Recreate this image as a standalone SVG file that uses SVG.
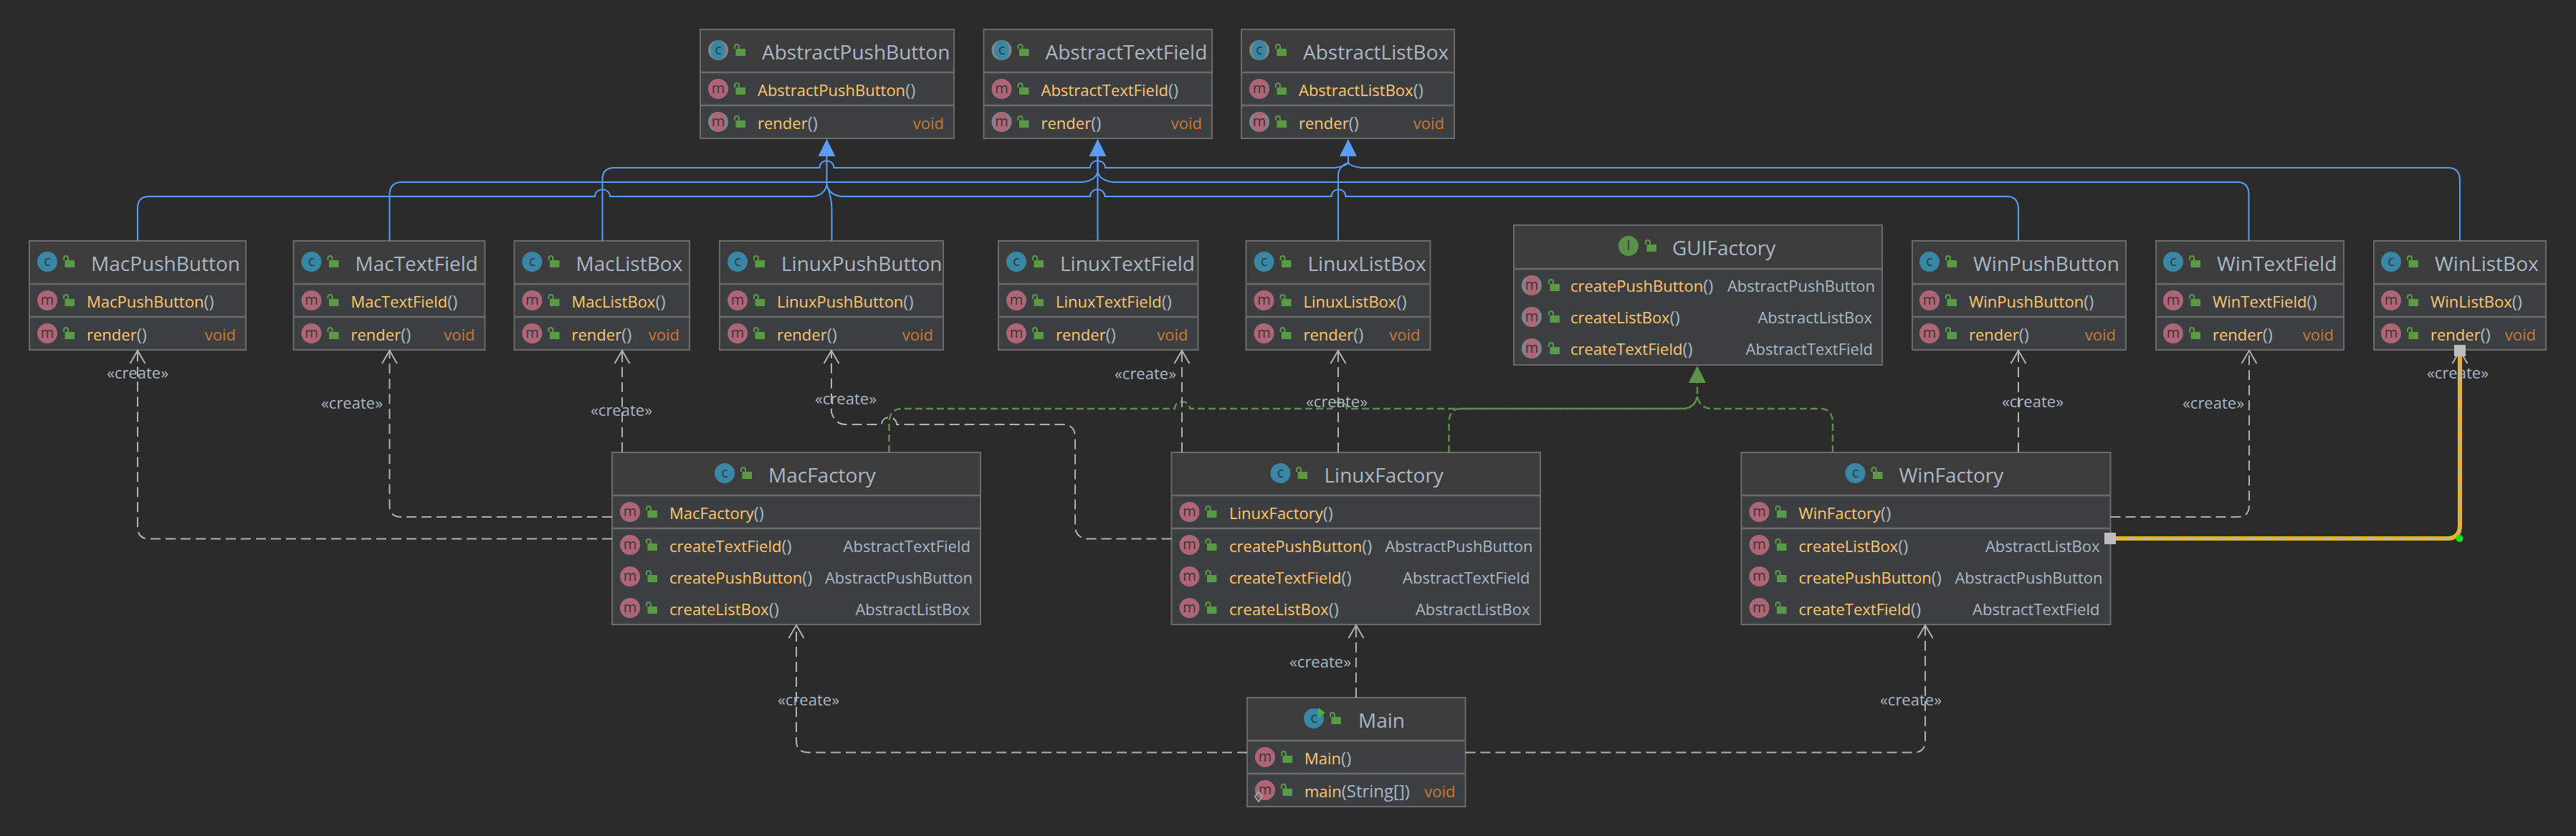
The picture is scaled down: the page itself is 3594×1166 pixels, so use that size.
<svg xmlns="http://www.w3.org/2000/svg" xmlns:xlink="http://www.w3.org/1999/xlink" width="3594" height="1166" viewBox="0 0 3594 1166">
<style>
text{font-family:"Open Sans","Noto Sans",sans-serif}
.hd{fill:#3C3C3C}.bd{fill:#3C3F41}.bx{fill:none;stroke:#6B6B6B;stroke-width:2}.sp{stroke:#6B6B6B;stroke-width:2.5}
.t{font-size:28px;fill:#A9B7C6}.m{font-size:22px;fill:#FFC66D}.p{fill:#A9B7C6;font-size:24px}.v{font-size:22px;fill:#CC7832;text-anchor:end}.r{font-size:22px;fill:#A9B7C6;text-anchor:end}
.l{font-size:22px;fill:#A9B7C6;text-anchor:middle}
.b{fill:none;stroke:#589DF6;stroke-width:2}.g{fill:none;stroke:#AFB1B3;stroke-width:2;stroke-dasharray:14 7}.n{fill:none;stroke:#5A8F47;stroke-width:2.5;stroke-dasharray:10 5}
.ic{font-size:20px;fill:#1F3F4D;text-anchor:middle}.im{font-size:20px;fill:#3B3436;text-anchor:middle}
</style>
<defs>
<marker id="open" markerUnits="userSpaceOnUse" markerWidth="26" markerHeight="26" refX="19" refY="12" orient="auto"><path d="M1,1.5 L19,12 L1,22.5" fill="none" stroke="#AFB1B3" stroke-width="2"/></marker>
<g id="lk"><path d="M1,-2V-5a3,3 0 0 1 6,0V-2" fill="none" stroke="#5B9A45" stroke-width="2"/><rect x="2.5" y="-2" width="13.5" height="10" fill="#5B9A45"/></g>
<g id="cI"><circle r="14" fill="#3A86A5"/><text class="ic" y="6">c</text></g>
<g id="aI"><circle r="14" fill="#7E868C"/><ellipse rx="10" ry="14" fill="#3A86A5"/><text class="ic" y="6">c</text></g>
<g id="mI"><circle r="14" fill="#AE6677"/><text class="im" y="6">m</text></g>
<g id="nI"><circle r="14" fill="#7E868C"/><ellipse rx="10" ry="14" fill="#AE6677"/><text class="im" y="6">m</text></g>
<g id="iI"><circle r="14" fill="#5A8F47"/><text class="im" y="6" font-size="16">I</text></g>
</defs>
<rect width="3594" height="1166" fill="#2B2B2B"/>

<g id="nodes">
<g id="AbstractPushButton" transform="translate(977,41)"><rect class="hd" width="354" height="60"/><rect class="bd" y="60" width="354" height="92"/><rect class="bx" width="354" height="152"/><line class="sp" x2="354" y1="60" y2="60"/><line class="sp" x2="354" y1="106" y2="106"/>
<use href="#aI" x="25" y="29"/><use href="#lk" x="47" y="29"/><text class="t" x="86" y="42">AbstractPushButton</text>
<use href="#mI" x="25" y="83"/><use href="#lk" x="47" y="83"/><text class="m" x="80" y="93">AbstractPushButton<tspan class="p">()</tspan></text>
<use href="#nI" x="25" y="129"/><use href="#lk" x="47" y="129"/><text class="m" x="80" y="139">render<tspan class="p">()</tspan></text><text class="v" x="340" y="139">void</text></g>

<g id="AbstractTextField" transform="translate(1372.5,41)"><rect class="hd" width="318.5" height="60"/><rect class="bd" y="60" width="318.5" height="92"/><rect class="bx" width="318.5" height="152"/><line class="sp" x2="318.5" y1="60" y2="60"/><line class="sp" x2="318.5" y1="106" y2="106"/>
<use href="#aI" x="25" y="29"/><use href="#lk" x="47" y="29"/><text class="t" x="86" y="42">AbstractTextField</text>
<use href="#mI" x="25" y="83"/><use href="#lk" x="47" y="83"/><text class="m" x="80" y="93">AbstractTextField<tspan class="p">()</tspan></text>
<use href="#nI" x="25" y="129"/><use href="#lk" x="47" y="129"/><text class="m" x="80" y="139">render<tspan class="p">()</tspan></text><text class="v" x="304.5" y="139">void</text></g>

<g id="AbstractListBox" transform="translate(1732,41)"><rect class="hd" width="297" height="60"/><rect class="bd" y="60" width="297" height="92"/><rect class="bx" width="297" height="152"/><line class="sp" x2="297" y1="60" y2="60"/><line class="sp" x2="297" y1="106" y2="106"/>
<use href="#aI" x="25" y="29"/><use href="#lk" x="47" y="29"/><text class="t" x="86" y="42">AbstractListBox</text>
<use href="#mI" x="25" y="83"/><use href="#lk" x="47" y="83"/><text class="m" x="80" y="93">AbstractListBox<tspan class="p">()</tspan></text>
<use href="#nI" x="25" y="129"/><use href="#lk" x="47" y="129"/><text class="m" x="80" y="139">render<tspan class="p">()</tspan></text><text class="v" x="283" y="139">void</text></g>

<g id="MacPushButton" transform="translate(41,336)"><rect class="hd" width="302" height="60"/><rect class="bd" y="60" width="302" height="92"/><rect class="bx" width="302" height="152"/><line class="sp" x2="302" y1="60" y2="60"/><line class="sp" x2="302" y1="106" y2="106"/>
<use href="#cI" x="25" y="29"/><use href="#lk" x="47" y="29"/><text class="t" x="86" y="42">MacPushButton</text>
<use href="#mI" x="25" y="83"/><use href="#lk" x="47" y="83"/><text class="m" x="80" y="93">MacPushButton<tspan class="p">()</tspan></text>
<use href="#mI" x="25" y="129"/><use href="#lk" x="47" y="129"/><text class="m" x="80" y="139">render<tspan class="p">()</tspan></text><text class="v" x="288" y="139">void</text></g>

<g id="MacTextField" transform="translate(409.5,336)"><rect class="hd" width="267" height="60"/><rect class="bd" y="60" width="267" height="92"/><rect class="bx" width="267" height="152"/><line class="sp" x2="267" y1="60" y2="60"/><line class="sp" x2="267" y1="106" y2="106"/>
<use href="#cI" x="25" y="29"/><use href="#lk" x="47" y="29"/><text class="t" x="86" y="42">MacTextField</text>
<use href="#mI" x="25" y="83"/><use href="#lk" x="47" y="83"/><text class="m" x="80" y="93">MacTextField<tspan class="p">()</tspan></text>
<use href="#mI" x="25" y="129"/><use href="#lk" x="47" y="129"/><text class="m" x="80" y="139">render<tspan class="p">()</tspan></text><text class="v" x="253" y="139">void</text></g>

<g id="MacListBox" transform="translate(717.5,336)"><rect class="hd" width="244.5" height="60"/><rect class="bd" y="60" width="244.5" height="92"/><rect class="bx" width="244.5" height="152"/><line class="sp" x2="244.5" y1="60" y2="60"/><line class="sp" x2="244.5" y1="106" y2="106"/>
<use href="#cI" x="25" y="29"/><use href="#lk" x="47" y="29"/><text class="t" x="86" y="42">MacListBox</text>
<use href="#mI" x="25" y="83"/><use href="#lk" x="47" y="83"/><text class="m" x="80" y="93">MacListBox<tspan class="p">()</tspan></text>
<use href="#mI" x="25" y="129"/><use href="#lk" x="47" y="129"/><text class="m" x="80" y="139">render<tspan class="p">()</tspan></text><text class="v" x="230.5" y="139">void</text></g>

<g id="LinuxPushButton" transform="translate(1004,336)"><rect class="hd" width="312" height="60"/><rect class="bd" y="60" width="312" height="92"/><rect class="bx" width="312" height="152"/><line class="sp" x2="312" y1="60" y2="60"/><line class="sp" x2="312" y1="106" y2="106"/>
<use href="#cI" x="25" y="29"/><use href="#lk" x="47" y="29"/><text class="t" x="86" y="42">LinuxPushButton</text>
<use href="#mI" x="25" y="83"/><use href="#lk" x="47" y="83"/><text class="m" x="80" y="93">LinuxPushButton<tspan class="p">()</tspan></text>
<use href="#mI" x="25" y="129"/><use href="#lk" x="47" y="129"/><text class="m" x="80" y="139">render<tspan class="p">()</tspan></text><text class="v" x="298" y="139">void</text></g>

<g id="LinuxTextField" transform="translate(1393,336)"><rect class="hd" width="278.5" height="60"/><rect class="bd" y="60" width="278.5" height="92"/><rect class="bx" width="278.5" height="152"/><line class="sp" x2="278.5" y1="60" y2="60"/><line class="sp" x2="278.5" y1="106" y2="106"/>
<use href="#cI" x="25" y="29"/><use href="#lk" x="47" y="29"/><text class="t" x="86" y="42">LinuxTextField</text>
<use href="#mI" x="25" y="83"/><use href="#lk" x="47" y="83"/><text class="m" x="80" y="93">LinuxTextField<tspan class="p">()</tspan></text>
<use href="#mI" x="25" y="129"/><use href="#lk" x="47" y="129"/><text class="m" x="80" y="139">render<tspan class="p">()</tspan></text><text class="v" x="264.5" y="139">void</text></g>

<g id="LinuxListBox" transform="translate(1738.5,336)"><rect class="hd" width="257" height="60"/><rect class="bd" y="60" width="257" height="92"/><rect class="bx" width="257" height="152"/><line class="sp" x2="257" y1="60" y2="60"/><line class="sp" x2="257" y1="106" y2="106"/>
<use href="#cI" x="25" y="29"/><use href="#lk" x="47" y="29"/><text class="t" x="86" y="42">LinuxListBox</text>
<use href="#mI" x="25" y="83"/><use href="#lk" x="47" y="83"/><text class="m" x="80" y="93">LinuxListBox<tspan class="p">()</tspan></text>
<use href="#mI" x="25" y="129"/><use href="#lk" x="47" y="129"/><text class="m" x="80" y="139">render<tspan class="p">()</tspan></text><text class="v" x="243" y="139">void</text></g>

<g id="GUIFactory" transform="translate(2112,314)"><rect class="hd" width="514" height="61"/><rect class="bd" y="61" width="514" height="134"/><rect class="bx" width="514" height="195"/><line class="sp" x2="514" y1="61" y2="61"/>
<use href="#iI" x="160" y="29"/><use href="#lk" x="183" y="29"/><text class="t" x="221" y="42">GUIFactory</text>
<use href="#nI" x="25" y="84"/><use href="#lk" x="48" y="84"/><text class="m" x="79" y="93">createPushButton<tspan class="p">()</tspan></text><text class="r" x="504" y="93">AbstractPushButton</text>
<use href="#nI" x="25" y="128"/><use href="#lk" x="48" y="128"/><text class="m" x="79" y="137">createListBox<tspan class="p">()</tspan></text><text class="r" x="500" y="137">AbstractListBox</text>
<use href="#nI" x="25" y="172"/><use href="#lk" x="48" y="172"/><text class="m" x="79" y="181">createTextField<tspan class="p">()</tspan></text><text class="r" x="501" y="181">AbstractTextField</text></g>

<g id="WinPushButton" transform="translate(2668,336)"><rect class="hd" width="298" height="60"/><rect class="bd" y="60" width="298" height="92"/><rect class="bx" width="298" height="152"/><line class="sp" x2="298" y1="60" y2="60"/><line class="sp" x2="298" y1="106" y2="106"/>
<use href="#cI" x="24" y="29"/><use href="#lk" x="46" y="29"/><text class="t" x="85" y="42">WinPushButton</text>
<use href="#mI" x="24" y="83"/><use href="#lk" x="46" y="83"/><text class="m" x="79" y="93">WinPushButton<tspan class="p">()</tspan></text>
<use href="#mI" x="24" y="129"/><use href="#lk" x="46" y="129"/><text class="m" x="79" y="139">render<tspan class="p">()</tspan></text><text class="v" x="284" y="139">void</text></g>

<g id="WinTextField" transform="translate(3008,336)"><rect class="hd" width="262" height="60"/><rect class="bd" y="60" width="262" height="92"/><rect class="bx" width="262" height="152"/><line class="sp" x2="262" y1="60" y2="60"/><line class="sp" x2="262" y1="106" y2="106"/>
<use href="#cI" x="24" y="29"/><use href="#lk" x="46" y="29"/><text class="t" x="85" y="42">WinTextField</text>
<use href="#mI" x="24" y="83"/><use href="#lk" x="46" y="83"/><text class="m" x="79" y="93">WinTextField<tspan class="p">()</tspan></text>
<use href="#mI" x="24" y="129"/><use href="#lk" x="46" y="129"/><text class="m" x="79" y="139">render<tspan class="p">()</tspan></text><text class="v" x="248" y="139">void</text></g>

<g id="WinListBox" transform="translate(3312,336)"><rect class="hd" width="240" height="60"/><rect class="bd" y="60" width="240" height="92"/><rect class="bx" width="240" height="152"/><line class="sp" x2="240" y1="60" y2="60"/><line class="sp" x2="240" y1="106" y2="106"/>
<use href="#cI" x="24" y="29"/><use href="#lk" x="46" y="29"/><text class="t" x="85" y="42">WinListBox</text>
<use href="#mI" x="24" y="83"/><use href="#lk" x="46" y="83"/><text class="m" x="79" y="93">WinListBox<tspan class="p">()</tspan></text>
<use href="#mI" x="24" y="129"/><use href="#lk" x="46" y="129"/><text class="m" x="79" y="139">render<tspan class="p">()</tspan></text><text class="v" x="226" y="139">void</text></g>

<g id="MacFactory" transform="translate(854,631)"><rect class="hd" width="514" height="60"/><rect class="bd" y="60" width="514" height="180"/><rect class="bx" width="514" height="240"/><line class="sp" x2="514" y1="60" y2="60"/><line class="sp" x2="514" y1="106" y2="106"/>
<use href="#cI" x="157" y="29"/><use href="#lk" x="179" y="29"/><text class="t" x="218" y="42">MacFactory</text>
<use href="#mI" x="25" y="83"/><use href="#lk" x="47" y="83"/><text class="m" x="80" y="93">MacFactory<tspan class="p">()</tspan></text>
<use href="#mI" x="25" y="129"/><use href="#lk" x="47" y="129"/><text class="m" x="80" y="139">createTextField<tspan class="p">()</tspan></text><text class="r" x="500" y="139">AbstractTextField</text>
<use href="#mI" x="25" y="173"/><use href="#lk" x="47" y="173"/><text class="m" x="80" y="183">createPushButton<tspan class="p">()</tspan></text><text class="r" x="503" y="183">AbstractPushButton</text>
<use href="#mI" x="25" y="217"/><use href="#lk" x="47" y="217"/><text class="m" x="80" y="227">createListBox<tspan class="p">()</tspan></text><text class="r" x="499" y="227">AbstractListBox</text></g>

<g id="LinuxFactory" transform="translate(1634.5,631)"><rect class="hd" width="514.5" height="60"/><rect class="bd" y="60" width="514.5" height="180"/><rect class="bx" width="514.5" height="240"/><line class="sp" x2="514.5" y1="60" y2="60"/><line class="sp" x2="514.5" y1="106" y2="106"/>
<use href="#cI" x="152" y="29"/><use href="#lk" x="173.5" y="29"/><text class="t" x="213" y="42">LinuxFactory</text>
<use href="#mI" x="25" y="83"/><use href="#lk" x="47" y="83"/><text class="m" x="80.5" y="93">LinuxFactory<tspan class="p">()</tspan></text>
<use href="#mI" x="25" y="129"/><use href="#lk" x="47" y="129"/><text class="m" x="80.5" y="139">createPushButton<tspan class="p">()</tspan></text><text class="r" x="504" y="139">AbstractPushButton</text>
<use href="#mI" x="25" y="173"/><use href="#lk" x="47" y="173"/><text class="m" x="80.5" y="183">createTextField<tspan class="p">()</tspan></text><text class="r" x="500" y="183">AbstractTextField</text>
<use href="#mI" x="25" y="217"/><use href="#lk" x="47" y="217"/><text class="m" x="80.5" y="227">createListBox<tspan class="p">()</tspan></text><text class="r" x="500" y="227">AbstractListBox</text></g>

<g id="WinFactory" transform="translate(2429.5,631)"><rect class="hd" width="515" height="60"/><rect class="bd" y="60" width="515" height="180"/><rect class="bx" width="515" height="240"/><line class="sp" x2="515" y1="60" y2="60"/><line class="sp" x2="515" y1="106" y2="106"/>
<use href="#cI" x="159" y="29"/><use href="#lk" x="181" y="29"/><text class="t" x="220" y="42">WinFactory</text>
<use href="#mI" x="25" y="83"/><use href="#lk" x="47" y="83"/><text class="m" x="80" y="93">WinFactory<tspan class="p">()</tspan></text>
<use href="#mI" x="25" y="129"/><use href="#lk" x="47" y="129"/><text class="m" x="80" y="139">createListBox<tspan class="p">()</tspan></text><text class="r" x="500" y="139">AbstractListBox</text>
<use href="#mI" x="25" y="173"/><use href="#lk" x="47" y="173"/><text class="m" x="80" y="183">createPushButton<tspan class="p">()</tspan></text><text class="r" x="504" y="183">AbstractPushButton</text>
<use href="#mI" x="25" y="217"/><use href="#lk" x="47" y="217"/><text class="m" x="80" y="227">createTextField<tspan class="p">()</tspan></text><text class="r" x="500" y="227">AbstractTextField</text></g>

<g id="Main" transform="translate(1740,973)"><rect class="hd" width="304.5" height="60"/><rect class="bd" y="60" width="304.5" height="92"/><rect class="bx" width="304.5" height="152"/><line class="sp" x2="304.5" y1="60" y2="60"/><line class="sp" x2="304.5" y1="106" y2="106"/>
<use href="#cI" x="93" y="29"/><path d="M99,14L109,21L99,28Z" fill="#4FB52F"/><use href="#lk" x="115" y="29"/><text class="t" x="155" y="42">Main</text>
<use href="#mI" x="25" y="83"/><use href="#lk" x="47" y="83"/><text class="m" x="80" y="93">Main<tspan class="p">()</tspan></text>
<use href="#mI" x="25" y="129"/><path d="M16,131L21,138L16,145L11,138Z" fill="none" stroke="#9AA3A8" stroke-width="2"/><use href="#lk" x="47" y="129"/><text class="m" x="80" y="139">main<tspan class="p">(String[])</tspan></text><text class="v" x="290.5" y="139">void</text></g>
</g>

<g id="connectors">
<g id="inherit">
<path class="b" d="M192,336V290Q192,274 208,274H830C830,261 851,261 851,274H1135Q1150,272 1153.5,258V218"/>
<path class="b" d="M543.5,336V272Q543.5,254 561,254H1510Q1528,252 1531.5,240V218"/>
<path class="b" d="M840.5,336V250Q840.5,234 857,234H1143.5C1143.5,221 1163.5,221 1163.5,234H1521C1521,221 1542,221 1542,234H1861Q1878,232 1881,227V218"/>
<path class="b" d="M1160.5,336V290Q1160,275 1153.5,258"/>
<path class="b" d="M1531.5,336V218"/>
<path class="b" d="M1867,336V245Q1867,232 1881,227"/>
<path class="b" d="M2816,336V292Q2816,274 2800,274H1877.5C1877.5,261 1857.5,261 1857.5,274H1541.5C1541.5,261 1521,261 1521,274H1174Q1157,272 1153.5,258"/>
<path class="b" d="M3137.5,336V272Q3137.5,254 3122,254H1553Q1535,252 1531.5,240"/>
<path class="b" d="M3432,336V252Q3432,234 3416,234H1900Q1884,232 1881,227"/>
<polygon points="1153.5,194 1141.5,218 1165.5,218" fill="#589DF6"/>
<polygon points="1531.5,194 1519.5,218 1543.5,218" fill="#589DF6"/>
<polygon points="1881,194 1869,218 1893,218" fill="#589DF6"/>
</g>
<g id="implement">
<path class="n" d="M1240.5,631V590Q1241,570 1258,570H1639C1639,557 1660,557 1660,570H1858C1858,557 1879,557 1879,570H2350Q2365,568 2368,553V534"/>
<path class="n" d="M2021.5,631V590Q2021.5,570 2038,570H2350Q2365,568 2368,553"/>
<path class="n" d="M2557,631V590Q2557,570 2540,570H2386Q2371,568 2368,553"/>
<polygon points="2368,510 2356,534 2380,534" fill="#5F9249"/>
</g>
<g id="create">
<path class="g" marker-end="url(#open)" d="M1740,1049.5H1128Q1111,1049.5 1111,1033V872"/>
<path class="g" marker-end="url(#open)" d="M1892,973V872"/>
<path class="g" marker-end="url(#open)" d="M2044.5,1049.5H2670Q2686,1049.5 2686,1033V872"/>
<path class="g" marker-end="url(#open)" d="M854,751.5H208Q192,751.5 192,735V489"/>
<path class="g" marker-end="url(#open)" d="M854,721H560Q543.5,721 543.5,705V489"/>
<path class="g" marker-end="url(#open)" d="M868,631V489"/>
<path class="g" marker-end="url(#open)" d="M1634.5,751.5H1520Q1500,751.5 1500,733V610Q1500,592 1482,592H1251C1251,579 1230,579 1230,592H1180Q1165,592 1160,575V489"/>
<path class="g" marker-end="url(#open)" d="M1649,631V489"/>
<path class="g" marker-end="url(#open)" d="M1867,631V489"/>
<path class="g" marker-end="url(#open)" d="M2816,631V489"/>
<path class="g" marker-end="url(#open)" d="M2944.5,721H3122Q3138,721 3138,705V489"/>
<path d="M2952,751H3414Q3432,751 3432,733V497" fill="none" stroke="#F2B705" stroke-width="6"/>
<path class="g" marker-end="url(#open)" d="M2944.5,751H3414Q3432,751 3432,733V489"/>
</g>
<g id="labels">
<text class="l" x="192" y="528">«create»</text>
<text class="l" x="491" y="570">«create»</text>
<text class="l" x="867" y="580">«create»</text>
<text class="l" x="1180" y="564">«create»</text>
<text class="l" x="1598" y="529">«create»</text>
<text class="l" x="1865" y="568">«create»</text>
<text class="l" x="2836" y="568">«create»</text>
<text class="l" x="3088" y="570">«create»</text>
<text class="l" x="3429" y="528">«create»</text>
<text class="l" x="1842" y="931">«create»</text>
<text class="l" x="1128" y="984">«create»</text>
<text class="l" x="2666" y="984">«create»</text>
</g>
<g id="handles">
<rect x="2936" y="743" width="16" height="16" fill="#BDBDBD"/>
<rect x="3424" y="481" width="16" height="16" fill="#BDBDBD"/>
<circle cx="3431.5" cy="751" r="5" fill="#0BE330"/>
</g>
</g>
</svg>
